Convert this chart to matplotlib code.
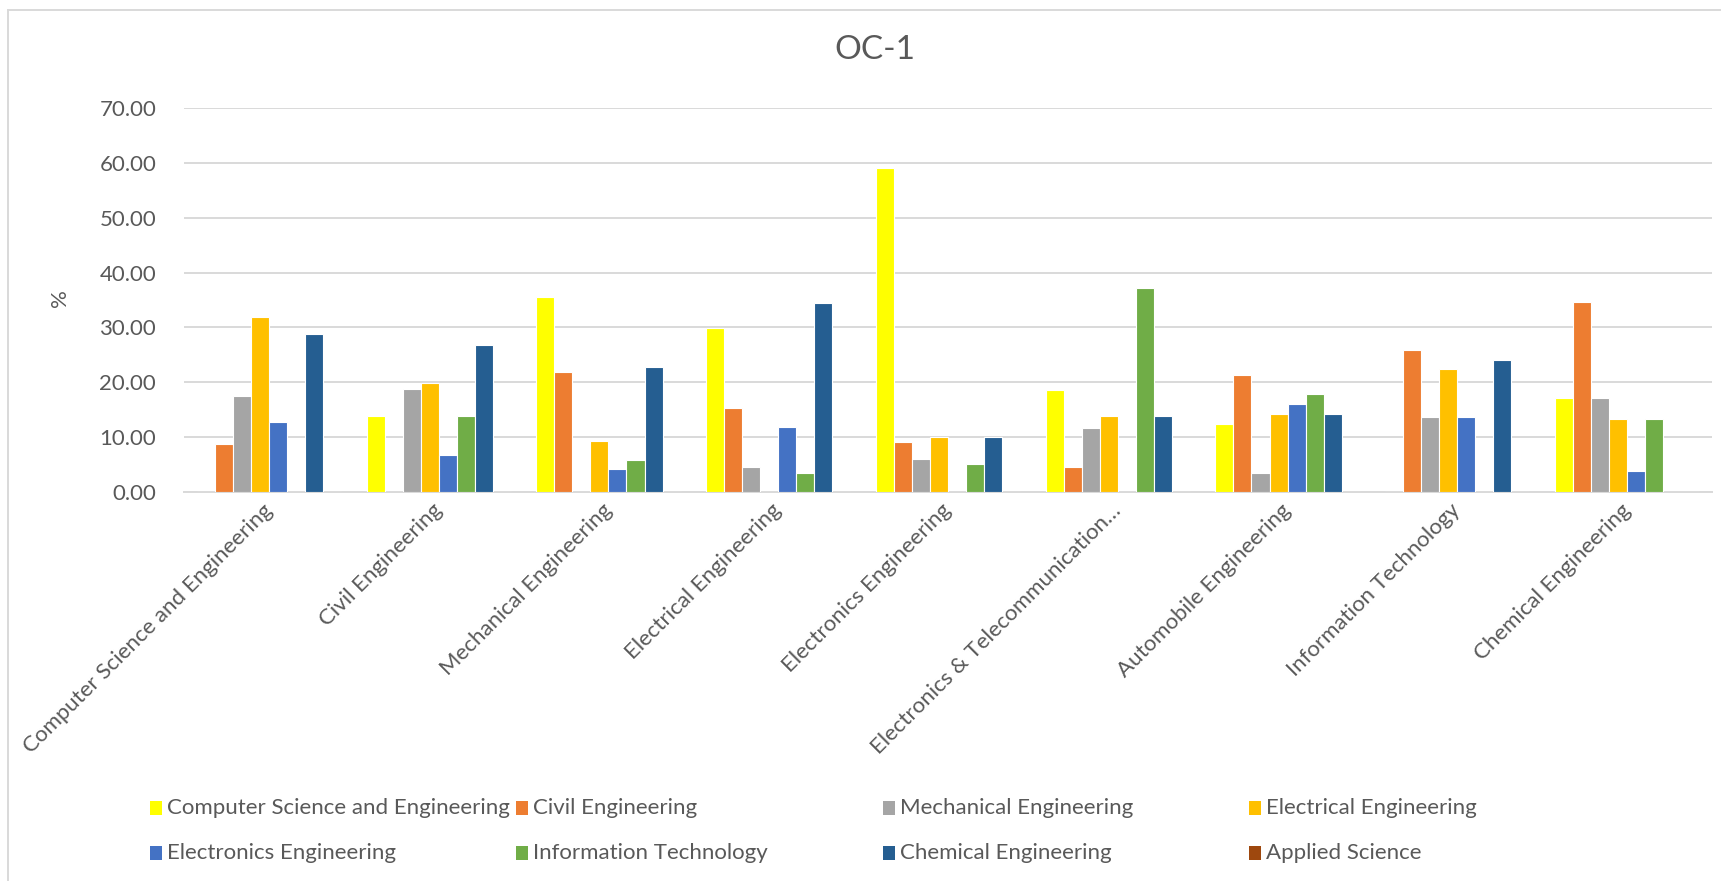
import matplotlib.pyplot as plt
import numpy as np
from matplotlib.patches import Rectangle
from matplotlib.lines import Line2D

categories = ['Computer Science and Engineering', 'Civil Engineering', 'Mechanical Engineering',
              'Electrical Engineering', 'Electronics Engineering', 'Electronics & Telecommunication\u2026',
              'Automobile Engineering', 'Information Technology', 'Chemical Engineering']

series_names = ['Computer Science and Engineering', 'Civil Engineering', 'Mechanical Engineering',
                'Electrical Engineering', 'Electronics Engineering', 'Information Technology',
                'Chemical Engineering', 'Applied Science']

cse_vals = [0, 13.82, 35.54, 29.95, 59.10, 18.56, 12.48, 0, 17.22]
civil_vals = [8.83, 0, 21.91, 15.40, 9.13, 4.63, 21.36, 25.81, 34.63]
mech_vals = [17.59, 18.75, 0, 4.50, 6.09, 11.63, 3.53, 13.76, 17.22]
elec_vals = [31.95, 19.78, 9.25, 0, 10.10, 13.88, 14.30, 22.34, 13.39]
entc_vals = [12.78, 6.82, 4.26, 11.81, 0, 0, 16.01, 13.76, 3.83]
it_vals = [0, 13.88, 5.90, 3.53, 5.11, 37.13, 17.83, 0, 13.39]
chem_vals = [28.73, 26.72, 22.82, 34.51, 10.10, 13.88, 14.30, 24.10, 0]
applied_vals = [0, 0, 0, 0, 0, 0, 0, 0, 0]

all_vals = [cse_vals, civil_vals, mech_vals, elec_vals, entc_vals, it_vals, chem_vals, applied_vals]
colors = ['#FFFF00', '#ED7D31', '#A5A5A5', '#FFC000', '#4472C4', '#70AD47', '#255E91', '#9E480E']

text_color = '#595959'
grid_color = '#D9D9D9'
font = 'Lato'
fs = 16

W, H = 1721, 881
fig = plt.figure(figsize=(W / 100, H / 100), dpi=100)

# Область построения (в пикселях исходника)
left, right, top, bottom = 184, 1712, 108, 492
ax = fig.add_axes([left / W, 1 - bottom / H, (right - left) / W, (bottom - top) / H])

x = np.arange(len(categories))
n = len(all_vals)
slot = 0.85 / n
for i, (vals, col) in enumerate(zip(all_vals, colors)):
    ax.bar(x + (i - (n - 1) / 2) * slot, vals, width=slot, color=col,
           edgecolor='white', linewidth=0.8, zorder=3)

ax.set_xlim(-0.5, len(categories) - 0.5)
ax.set_ylim(0, 70)
ax.set_yticks(np.arange(0, 71, 10))
ax.set_yticklabels([f'{v:.2f}' for v in np.arange(0, 71, 10)], fontsize=fs,
                   color=text_color, family=font)
ax.set_xticks(x)
ax.set_xticklabels(categories, rotation=45, ha='right', va='center', rotation_mode='anchor',
                   fontsize=fs, color=text_color, family=font)
ax.tick_params(axis='both', length=0)
ax.tick_params(axis='y', pad=20)
ax.tick_params(axis='x', pad=11)

ax.grid(axis='y', color=grid_color, linewidth=1.4, zorder=0)
for s in ['top', 'right', 'left']:
    ax.spines[s].set_visible(False)
ax.spines['bottom'].set_color(grid_color)
ax.spines['bottom'].set_linewidth(1.4)

fig.text(60 / W, 1 - 298 / H, '%', rotation=90, ha='center', va='center',
         fontsize=fs, color=text_color, family=font)

fig.text(875 / W, 1 - 50 / H, 'OC-1', ha='center', va='center', fontsize=24,
         color=text_color, family=font)

# Легенда: 2 строки по 4 элемента, фиксированные колонки
col_x = [150, 516, 883, 1249]
row_y = [808, 853]
for k, (name, col) in enumerate(zip(series_names, colors)):
    r, c = divmod(k, 4)
    mx, my = col_x[c], row_y[r]
    fig.add_artist(Rectangle((mx / W, 1 - (my + 7) / H), 12 / W, 14 / H,
                             transform=fig.transFigure, facecolor=col, edgecolor='none'))
    fig.text((mx + 17) / W, 1 - my / H, name, ha='left', va='center', fontsize=fs,
             color=text_color, family=font)

# Рамка области диаграммы (видны только верх и левая сторона)
fig.add_artist(Line2D([8 / W, 8 / W], [0, 1 - 9.5 / H], transform=fig.transFigure,
                      color=grid_color, linewidth=1.4))
fig.add_artist(Line2D([8 / W, 1], [1 - 9.5 / H, 1 - 9.5 / H], transform=fig.transFigure,
                      color=grid_color, linewidth=1.4))

fig.savefig('out.png', dpi=100)
